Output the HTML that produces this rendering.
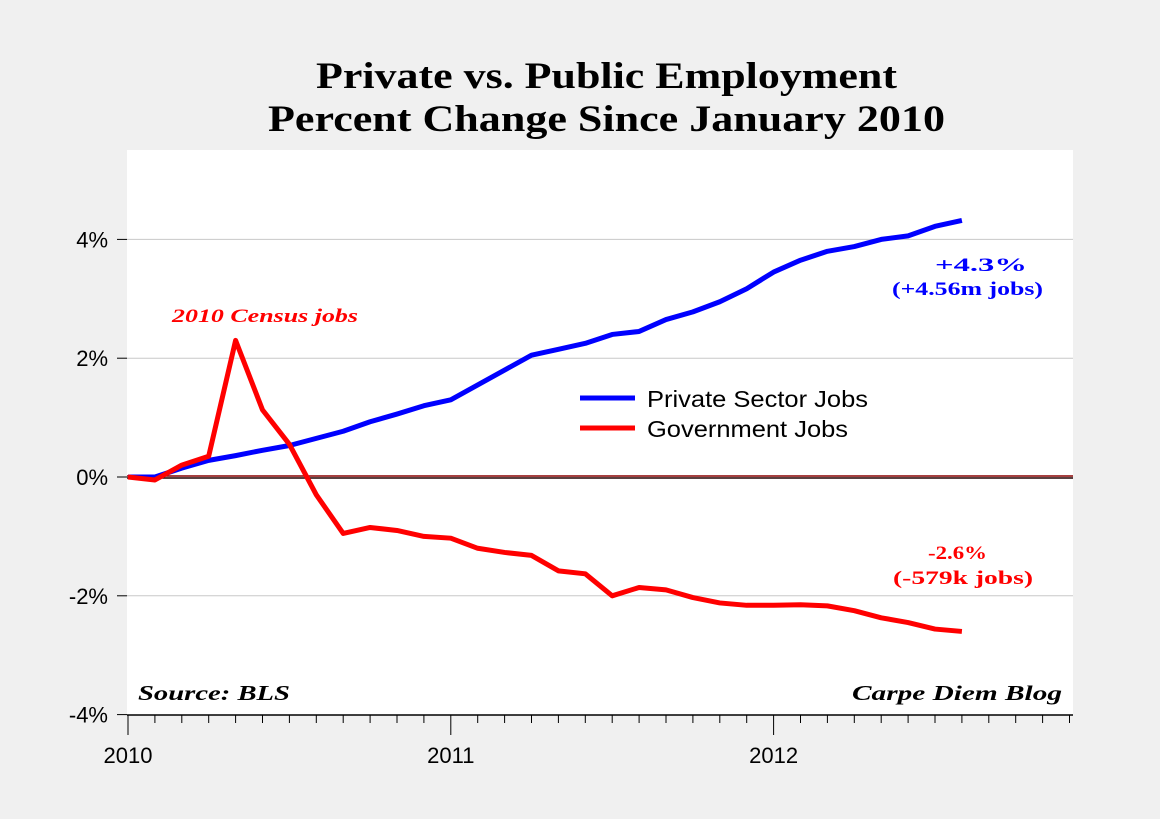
<!DOCTYPE html>
<html><head><meta charset="utf-8"><style>
body{margin:0;background:#f0f0f0;}
svg{display:block;}
</style></head><body>
<svg width="1160" height="819" xmlns="http://www.w3.org/2000/svg">
<rect width="1160" height="819" fill="#f0f0f0"/>
<text x="316" y="88" textLength="581" lengthAdjust="spacingAndGlyphs" font-family="Liberation Serif, serif" font-weight="bold" font-size="37" fill="#000">Private vs. Public Employment</text>
<text x="268" y="131" textLength="677" lengthAdjust="spacingAndGlyphs" font-family="Liberation Serif, serif" font-weight="bold" font-size="37" fill="#000">Percent Change Since January 2010</text>
<rect x="127" y="150" width="946" height="565" fill="#fff"/>
<g id="grid"></g>
<g id="axes"></g>
<g id="series"></g>
<text x="172" y="322" textLength="186" lengthAdjust="spacingAndGlyphs" font-family="Liberation Serif, serif" font-weight="bold" font-style="italic" font-size="19" fill="#f00">2010 Census jobs</text>
<text x="935" y="271" textLength="92" lengthAdjust="spacingAndGlyphs" font-family="Liberation Serif, serif" font-weight="bold" font-size="19" fill="#00f">+4.3%</text>
<text x="892" y="295" textLength="151" lengthAdjust="spacingAndGlyphs" font-family="Liberation Serif, serif" font-weight="bold" font-size="19" fill="#00f">(+4.56m jobs)</text>
<text x="928" y="559" textLength="59" lengthAdjust="spacingAndGlyphs" font-family="Liberation Serif, serif" font-weight="bold" font-size="19" fill="#f00">-2.6%</text>
<text x="893" y="584" textLength="140" lengthAdjust="spacingAndGlyphs" font-family="Liberation Serif, serif" font-weight="bold" font-size="19" fill="#f00">(-579k jobs)</text>
<line x1="580" y1="398" x2="635" y2="398" stroke="#00f" stroke-width="5"/>
<text x="647" y="407" textLength="221" lengthAdjust="spacingAndGlyphs" font-family="Liberation Sans, sans-serif" font-size="23" fill="#000">Private Sector Jobs</text>
<line x1="580" y1="428" x2="635" y2="428" stroke="#f00" stroke-width="5"/>
<text x="647" y="437" textLength="201" lengthAdjust="spacingAndGlyphs" font-family="Liberation Sans, sans-serif" font-size="23" fill="#000">Government Jobs</text>
<text x="138" y="700" textLength="152" lengthAdjust="spacingAndGlyphs" font-family="Liberation Serif, serif" font-weight="bold" font-style="italic" font-size="21" fill="#000">Source: BLS</text>
<text x="852" y="700" textLength="210" lengthAdjust="spacingAndGlyphs" font-family="Liberation Serif, serif" font-weight="bold" font-style="italic" font-size="21" fill="#000">Carpe Diem Blog</text>
</svg>
<script>
const yTicks=[4,2,0,-2,-4];
const yTickLabels=["4%","2%","0%","-2%","-4%"];
const xYears=[2010,2011,2012];
const privateJobs=[0,0,0.15,0.28,0.36,0.45,0.53,0.65,0.77,0.93,1.06,1.2,1.3,1.55,1.8,2.05,2.15,2.25,2.4,2.45,2.65,2.78,2.95,3.17,3.45,3.65,3.8,3.88,4.0,4.06,4.22,4.32];
const governmentJobs=[0,-0.05,0.2,0.35,2.3,1.13,0.55,-0.3,-0.95,-0.85,-0.9,-1.0,-1.03,-1.2,-1.27,-1.32,-1.58,-1.63,-2.0,-1.86,-1.9,-2.03,-2.12,-2.16,-2.16,-2.15,-2.17,-2.25,-2.37,-2.45,-2.56,-2.6];
const NS="http://www.w3.org/2000/svg";
const xOf=m=>128+m*26.9;
const yOf=v=>477-v*59.4;
function mk(tag,attrs,parent){const e=document.createElementNS(NS,tag);for(const k in attrs)e.setAttribute(k,attrs[k]);document.getElementById(parent).appendChild(e);return e;}
yTicks.forEach((t,i)=>{
  if(t!==0&&t!==-4){const g=mk('line',{x1:127,x2:1073,y1:yOf(t),y2:yOf(t),stroke:'#c8c8c8','stroke-width':1},'grid');
  
  }
  const tk=mk('line',{x1:117,x2:127,y1:yOf(t),y2:yOf(t),stroke:'#000','stroke-width':1},'axes');
  
  
  const l=mk('text',{x:108,y:yOf(t)+8,'text-anchor':'end','font-family':'Liberation Sans, sans-serif','font-size':22},'axes');
  l.textContent=yTickLabels[i];
  
  
});
const z1=mk('line',{x1:127,x2:1073,y1:yOf(0)-1,y2:yOf(0)-1,stroke:'#800','stroke-width':1.5},'axes');


const z2=mk('line',{x1:127,x2:1073,y1:yOf(0)+1,y2:yOf(0)+1,stroke:'#200','stroke-width':1.5},'axes');


const xa=mk('line',{x1:127,x2:1073,y1:715,y2:715,stroke:'#000','stroke-width':1.5},'axes');


for(let m=0;m<=35;m++){
  const big=m%12===0;
  const t=mk('line',{x1:xOf(m),x2:xOf(m),y1:715,y2:big?735:723,stroke:'#000','stroke-width':1},'axes');
  
  
}
xYears.forEach((yr,i)=>{
  const l=mk('text',{x:xOf(i*12),y:763,'text-anchor':'middle','font-family':'Liberation Sans, sans-serif','font-size':22},'axes');
  l.textContent=yr;
  
  
});
function line(data,color,name){
  const p=mk('polyline',{points:data.map((v,i)=>xOf(i)+','+yOf(v)).join(' '),fill:'none',stroke:color,'stroke-width':5,'stroke-linejoin':'round'},'series');
  
  
}
line(privateJobs,'#00f','private-sector-line');
line(governmentJobs,'#f00','government-line');
</script>
</body></html>
